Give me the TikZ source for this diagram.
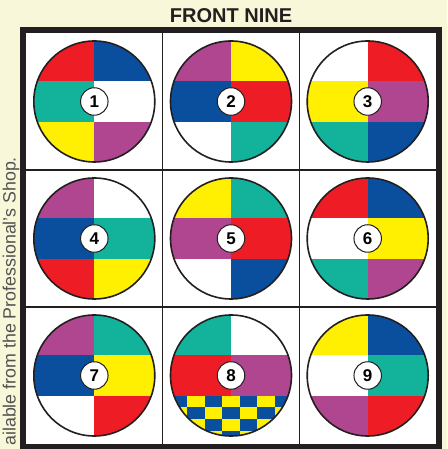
\documentclass[tikz,border=0pt]{standalone}
\usepackage{fontspec}
\setmainfont{Liberation Sans}
\usetikzlibrary{positioning}
\definecolor{Cbg}{RGB}{249,247,217}
\definecolor{Cred}{RGB}{238,29,37}
\definecolor{Cblu}{RGB}{10,79,158}
\definecolor{Cteal}{RGB}{18,179,154}
\definecolor{Cyel}{RGB}{255,239,0}
\definecolor{Cpur}{RGB}{176,70,143}
\definecolor{Cwht}{RGB}{255,255,255}
\definecolor{Cink}{RGB}{35,31,32}
\tikzset{
  frame/.style={draw=Cink, line width=5.8pt},
  divider/.style={draw=Cink, line width=1.5pt},
  rim/.style={draw=Cink, line width=1.6pt},
  ballnum/.style={circle, draw=Cink, line width=1pt, fill=white,
    minimum size=27.5pt, inner sep=0pt,
    font=\fontsize{17}{17}\selectfont\bfseries},
  headline/.style={font=\fontsize{20}{20}\selectfont\bfseries, text=Cink},
  sidenote/.style={font=\fontsize{17.8}{18}\selectfont, text=black!68},
}

\begin{document}
\begin{tikzpicture}[x=1pt, y=1pt]
\useasboundingbox (0,0) rectangle (447,449);
\fill[Cbg] (0,0) rectangle (447,449);

%%==========================================================================
%% TITLE AND SIDE NOTE
%%==========================================================================
\node[headline] (title) at (231,433.3) {FRONT NINE};
\node[sidenote, rotate=90, anchor=base east] (shop) at (15.5,295.5)
  {ailable from the Professional's Shop.};

%%==========================================================================
%% GRID
%%==========================================================================
\fill[white] (23,2.5) rectangle (439,418.7);
\draw[divider] (162.7,5) -- (162.7,416);
\draw[divider] (299.3,5) -- (299.3,416);
\draw[divider] (26,279) -- (436,279);
\draw[divider] (26,142) -- (436,142);
\draw[frame] (23,2.5) rectangle (439,418.7);

%%==========================================================================
%% BALLS -- colours: top-left/top-right/mid-left/mid-right/bot-left/bot-right
%%==========================================================================
\def\R{60.5}
\foreach \n/\cx/\cy/\tl/\tr/\ml/\mr/\bl/\br in {
    1/94.3/347.5/Cred/Cblu/Cteal/Cwht/Cyel/Cpur,
    2/231/347.5/Cpur/Cyel/Cblu/Cred/Cwht/Cteal,
    3/367.7/347.5/Cwht/Cred/Cyel/Cpur/Cteal/Cblu,
    4/94.3/210.5/Cpur/Cwht/Cblu/Cteal/Cred/Cyel,
    5/231/210.5/Cyel/Cteal/Cpur/Cred/Cwht/Cblu,
    6/367.7/210.5/Cred/Cblu/Cwht/Cyel/Cteal/Cpur,
    7/94.3/73.5/Cpur/Cteal/Cblu/Cyel/Cwht/Cred,
    8/231/73.5/Cteal/Cwht/Cred/Cpur/Cblu/Cblu,
    9/367.7/73.5/Cyel/Cblu/Cwht/Cteal/Cpur/Cred} {
  \begin{scope}[shift={(\cx,\cy)}]
    \begin{scope}
      \clip (0,0) circle (\R);
      \fill[\tl] (-\R,\R) rectangle (0,\R/3);
      \fill[\tr] (0,\R) rectangle (\R,\R/3);
      \fill[\ml] (-\R,\R/3) rectangle (0,-\R/3);
      \fill[\mr] (0,\R/3) rectangle (\R,-\R/3);
      \fill[\bl] (-\R,-\R/3) rectangle (0,-\R);
      \fill[\br] (0,-\R/3) rectangle (\R,-\R);
      % chequered band of the eight ball
      \ifnum\n=8
        \foreach \j in {0,...,3}
          \foreach \k in {-4,...,4} {
            \pgfmathtruncatemacro\chk{mod(\j+\k+10,2)}
            \ifnum\chk=0
              \fill[Cyel] (\k*17.6-8.8,-\R/3-\j*11.7) rectangle ++(17.6,-11.7);
            \fi
          }
      \fi
    \end{scope}
    \draw[rim] (0,0) circle (\R);
    \node[ballnum] (ball\n) at (0,0) {\n};
  \end{scope}
}

\end{tikzpicture}
\end{document}
